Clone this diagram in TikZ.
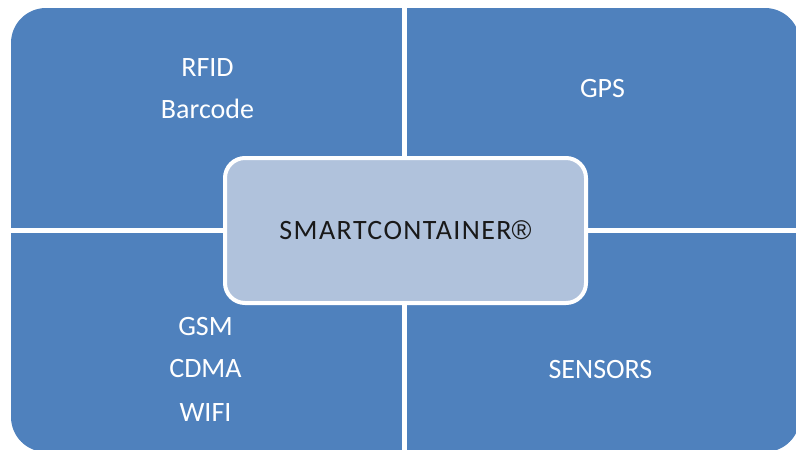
\documentclass[tikz,border=0pt]{standalone}
\usepackage{fontspec}
\setmainfont{Carlito}
\newfontfamily\regfont{Liberation Sans}
\definecolor{quadblue}{HTML}{4F81BD}
\definecolor{coreblue}{HTML}{B0C2DC}
\begin{document}
\begin{tikzpicture}[x=1pt,y=-1pt,
  lbl/.style={text=white,font=\fontsize{28}{34}\selectfont,anchor=base,inner sep=0pt},
  corebox/.style={draw=white,line width=4pt,fill=coreblue,rounded corners=20pt,
    minimum width=361pt,minimum height=145pt,inner sep=0pt,
    text=black!90,font=\fontsize{28}{34}\selectfont\addfontfeature{LetterSpace=5}},
  gap/.style={white,line width=5pt}]
\useasboundingbox (0,0) rectangle (796,450);
\clip (0,0) rectangle (796,450);
\fill[quadblue,rounded corners=35pt] (11,8) rectangle (800,452);
\draw[gap] (404.5,0) -- (404.5,450);
\draw[gap] (0,230.5) -- (800,230.5);
\node[corebox] (core) at (405.5,230.5) {SMARTCONTAINER{\regfont\fontsize{27}{34}\selectfont ®}};
\node[lbl] (rfid) at (207.5,76) {RFID};
\node[lbl] (barcode) at (207.5,118) {Barcode};
\node[lbl] (gps) at (602.5,97) {GPS};
\node[lbl] (gsm) at (205.5,335) {GSM};
\node[lbl] (cdma) at (205.5,377) {CDMA};
\node[lbl] (wifi) at (205.5,421) {WIFI};
\node[lbl] (sensors) at (600.5,378) {SENSORS};
\end{tikzpicture}
\end{document}
